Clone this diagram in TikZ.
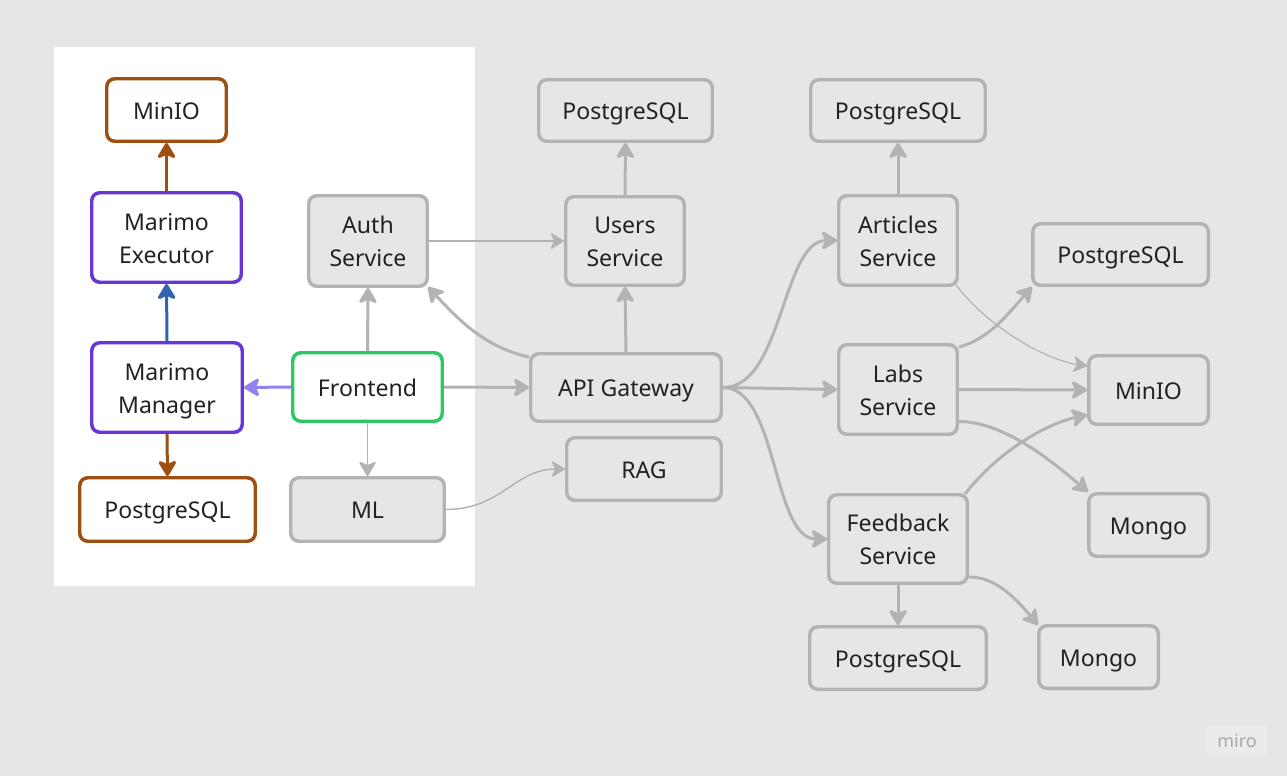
\documentclass[tikz,border=0pt]{standalone}
\usepackage{fontspec}
\setmainfont{Noto Sans}
\usetikzlibrary{arrows.meta,calc}
\definecolor{bgc}{HTML}{E6E6E6}
\definecolor{gfill}{HTML}{E6E6E6}
\definecolor{gline}{HTML}{B3B3B3}
\definecolor{txt}{HTML}{222222}
\definecolor{brownc}{HTML}{9E4F12}
\definecolor{purplec}{HTML}{6A35D6}
\definecolor{greenc}{HTML}{2DC865}
\definecolor{bluec}{HTML}{3263B0}
\definecolor{lpurple}{HTML}{9381EE}
\definecolor{logobg}{HTML}{EBEBEB}
\definecolor{logotxt}{HTML}{A8A8A8}
\newcommand{\boxstrut}{\rule[-5.6pt]{0pt}{25pt}}
\newcommand{\twolines}[2]{\rule{0pt}{19.5pt}#1\\#2\rule[-6pt]{0pt}{6pt}}
\pgfdeclarelayer{bglayer}
\pgfdeclarelayer{edgelayer}
\pgfsetlayers{bglayer,edgelayer,main}
\begin{document}
\begin{tikzpicture}[x=0.75pt,y=-0.75pt,
  box/.style={rectangle, rounded corners=6pt, line width=2.6pt, align=center, inner sep=0pt, text=txt,
    font=\fontsize{17.3}{24.75}\selectfont},
  one/.style={execute at begin node=\boxstrut, execute at end node=\boxstrut},
  gbox/.style={box, draw=gline, fill=gfill},
  wbrown/.style={box, draw=brownc, fill=white},
  wpurple/.style={box, draw=purplec, fill=white},
  wgreen/.style={box, draw=greenc, fill=white},
  sz/.style 2 args={minimum width={(#1-3.5)*0.75pt}, minimum height={(#2-3.5)*0.75pt}},
  thick arrow/.style={line width=2.25pt, -{Stealth[round,length=13.5pt,width=16pt,inset=3.5pt]}},
  thin arrow/.style={line width=1.1pt, -{Stealth[round,length=11pt,width=13pt,inset=3pt]}},
  ge/.style={draw=gline, thick arrow},
  gt/.style={draw=gline, thin arrow},
]
\begin{pgfonlayer}{bglayer}
  \fill[bgc] (0,0) rectangle (1287,776);
  \fill[white] (54,47) rectangle (475,586);
\end{pgfonlayer}

% left panel
\node[wbrown, one, sz={123}{66}] (minioL) at (166.5,110) {MinIO};
\node[wpurple, sz={153}{93}] (exec) at (166.5,237.5) {\twolines{Marimo}{Executor}};
\node[wpurple, sz={154}{93}] (mgr) at (167,387.5) {\twolines{Marimo}{Manager}};
\node[wbrown, one, sz={179}{67}] (pgL) at (167.5,509.5) {PostgreSQL};
\node[gbox, sz={122}{94}] (auth) at (368,241) {\twolines{Auth}{Service}};
\node[wgreen, one, sz={153}{72}] (front) at (367.5,387) {Frontend};
\node[gbox, one, sz={157}{67}] (ml) at (367.5,509.5) {ML};

% middle
\node[gbox, one, sz={177}{65}] (pgT) at (625.5,110.5) {PostgreSQL};
\node[gbox, sz={122}{92}] (users) at (625,241) {\twolines{Users}{Service}};
\node[gbox, one, sz={194}{71}] (api) at (626,387.5) {API Gateway};
\node[gbox, one, sz={158}{66}] (rag) at (644,469) {RAG};

% right
\node[gbox, one, sz={178}{65}] (pgT2) at (898,110.5) {PostgreSQL};
\node[gbox, sz={122}{93}] (art) at (898,240.5) {\twolines{Articles}{Service}};
\node[gbox, sz={122}{93}] (labs) at (898,389.5) {\twolines{Labs}{Service}};
\node[gbox, sz={142}{92}] (feed) at (898,539) {\twolines{Feedback}{Service}};
\node[gbox, one, sz={179}{65}] (pgR) at (1120.5,254.5) {PostgreSQL};
\node[gbox, one, sz={123}{72}] (minioR) at (1148.5,390) {MinIO};
\node[gbox, one, sz={123}{66}] (mongoR) at (1148.5,525) {Mongo};
\node[gbox, one, sz={180}{66}] (pgB) at (898,658) {PostgreSQL};
\node[gbox, one, sz={123}{66}] (mongoB) at (1098.5,657) {Mongo};

% logo
\node[fill=logobg, rounded corners=2pt, minimum width=45pt, minimum height=23pt, inner sep=0pt,
  text=logotxt, font=\fontsize{13.5}{15}\selectfont\bfseries] (logo) at (1237,740.5) {miro};

\begin{pgfonlayer}{edgelayer}
  % left panel edges
  \draw[draw=brownc, thick arrow] (exec.north) -- (minioL.south);
  \draw[draw=bluec, thick arrow] (mgr.north) -- (exec.south);
  \draw[draw=brownc, thick arrow] (mgr.south) -- (pgL.north);
  \draw[draw=lpurple, thick arrow] (front.west) -- (mgr.east);
  \draw[ge] (front.north) -- (auth.south);
  \draw[ge] (front.east) -- (api.west);
  \draw[draw=gline, line width=1.4pt, -{Stealth[round,length=12pt,width=14pt,inset=3pt]}] (front.south) -- (ml.north);
  \draw[gt] (ml.east) .. controls +(55,0) and +(-50,0) .. (rag.west);
  \draw[gt] (auth.east) -- (users.west);
  % gateway
  \draw[ge] ($(api.north west)+(0,5)$) .. controls +(-45,-10) and +(30,32) .. ($(auth.south east)+(-1,-1)$);
  \draw[ge] (api.north) -- (users.south);
  \draw[ge] (users.north) -- (pgT.south);
  \draw[ge] (api.east) .. controls +(60,0) and +(-55,0) .. (art.west);
  \draw[ge] (api.east) -- (labs.west);
  \draw[ge] (api.east) .. controls +(55,0) and +(-55,0) .. (feed.west);
  % services
  \draw[ge] (art.north) -- (pgT2.south);
  \draw[draw=gline, line width=0.9pt, -{Stealth[round,length=11pt,width=13pt,inset=3pt]}]
    ($(art.south east)+(-3,-2)$) .. controls +(35,45) and +(-40,-6) .. ($(minioR.west)+(0,-24)$);
  \draw[ge] ($(labs.north east)+(0,4)$) .. controls +(30,-8) and +(-25,28) .. ($(pgR.south west)+(1,0)$);
  \draw[ge] (labs.east) -- (minioR.west);
  \draw[ge] ($(labs.east)+(0,32)$) .. controls +(45,0) and +(-35,-30) .. ($(mongoR.north west)+(1,0)$);
  \draw[ge] ($(feed.north east)+(-4,1)$) .. controls +(35,-45) and +(-38,8) .. ($(minioR.west)+(0,25)$);
  \draw[ge] (feed.south) -- (pgB.north);
  \draw[ge] ($(feed.east)+(0,38)$) .. controls +(25,0) and +(-25,-30) .. ($(mongoB.north west)+(1,1)$);
\end{pgfonlayer}
\end{tikzpicture}
\end{document}
